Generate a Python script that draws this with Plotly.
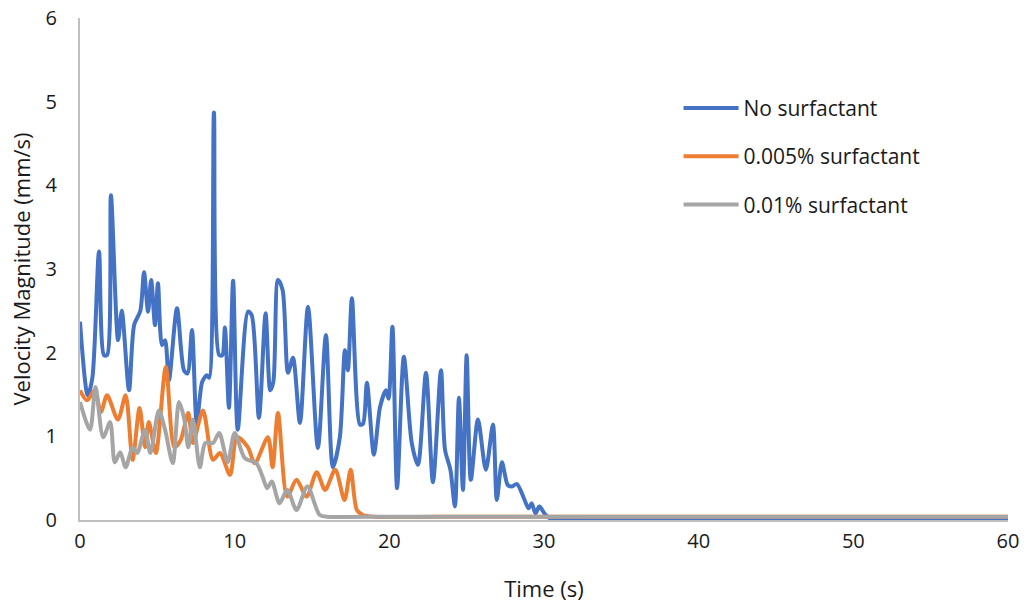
import plotly.graph_objects as go

# ---- data ----
blue_t = [0, 0.5, 0.8, 1.23, 1.55, 1.75, 2.0, 2.46, 2.7, 3.17, 3.5, 3.9, 4.14, 4.4, 4.6, 4.85,
          5.04, 5.3, 5.5, 5.75, 6.27, 6.72, 6.95, 7.24, 7.55, 7.9, 8.2, 8.35, 8.66, 9.0, 9.2,
          9.37, 9.63, 9.9, 10.2, 10.86, 11.1, 11.57, 12.0, 12.3, 12.5, 12.8, 13.1, 13.45, 13.77,
          14.22, 14.74, 15.38, 15.9, 16.35, 16.8, 17.13, 17.32, 17.58, 18.1, 18.3, 18.55, 19.0,
          19.4, 19.78, 19.95, 20.2, 20.5, 20.94, 21.45, 21.85, 22.37, 22.82, 23.34, 23.6, 23.95,
          24.24, 24.5, 24.76, 25.0, 25.27, 25.73, 26.24, 26.7, 26.95, 27.28, 27.65, 27.9, 28.25,
          28.7, 29.0, 29.2, 29.45, 29.7, 30.1, 30.5, 35, 40, 45, 50, 55, 60]
blue_v = [2.37, 1.49, 1.7, 3.21, 1.97, 1.97, 3.88, 2.15, 2.5, 1.55, 2.33, 2.5, 2.96, 2.49, 2.87, 2.33,
          2.83, 2.09, 2.15, 1.67, 2.53, 1.79, 1.75, 2.27, 1.15, 1.65, 1.73, 1.7, 4.87, 1.97, 1.97,
          2.3, 1.34, 2.86, 1.08, 2.49, 2.45, 1.22, 2.47, 1.55, 1.65, 2.87, 2.75, 1.76, 1.94,
          1.16, 2.55, 0.86, 2.21, 0.63, 0.99, 2.03, 1.79, 2.65, 1.14, 1.15, 1.64, 0.78,
          1.35, 1.55, 1.45, 2.31, 0.38, 1.95, 0.92, 0.66, 1.76, 0.45, 1.79, 0.84, 0.6,
          0.16, 1.46, 0.36, 1.97, 0.48, 1.2, 0.6, 1.14, 0.24, 0.69, 0.42, 0.4, 0.43,
          0.26, 0.14, 0.2, 0.08, 0.16, 0.06, 0.01, 0.01, 0.01, 0.01, 0.01, 0.01, 0.01]

orange_t = [0, 0.45, 0.95, 1.35, 1.75, 2.45, 2.95, 3.4, 3.85, 4.2, 4.45, 4.9, 5.55, 6.1, 6.5, 7.0,
            7.3, 7.95, 8.6, 9.05, 9.7, 10.15, 10.85, 11.3, 12.15, 12.45, 12.8, 13.4, 14.0, 14.65,
            15.3, 15.85, 16.5, 17.1, 17.5, 17.9, 18.3, 19, 25, 30, 40, 50, 60]
orange_v = [1.55, 1.43, 1.55, 1.29, 1.49, 1.2, 1.49, 0.72, 1.34, 0.87, 1.17, 0.8, 1.83, 0.87, 0.95, 1.28,
            0.92, 1.31, 0.72, 0.8, 0.54, 0.99, 0.87, 0.68, 0.99, 0.63, 1.28, 0.28, 0.48, 0.28,
            0.57, 0.36, 0.6, 0.24, 0.6, 0.12, 0.06, 0.04, 0.04, 0.04, 0.04, 0.04, 0.04]

gray_t = [0, 0.65, 1.0, 1.5, 1.95, 2.25, 2.6, 2.95, 3.4, 3.7, 4.2, 4.55, 5.1, 5.5, 6.0, 6.4, 6.75,
          7.0, 7.3, 7.75, 8.1, 8.6, 9.0, 9.55, 10.0, 10.65, 11.4, 11.8, 12.1, 12.4, 12.9, 13.4,
          14.0, 14.7, 15.5, 16, 20, 30, 40, 50, 60]
gray_v = [1.41, 1.08, 1.59, 0.99, 1.17, 0.69, 0.81, 0.63, 0.87, 0.8, 1.08, 0.8, 1.31, 1.08, 0.68, 1.41, 1.2,
          0.87, 1.2, 0.63, 0.92, 0.92, 1.04, 0.69, 1.04, 0.74, 0.68, 0.52, 0.38, 0.46, 0.2, 0.36,
          0.12, 0.4, 0.06, 0.04, 0.04, 0.04, 0.04, 0.04, 0.04]

names = ["No surfactant", "0.005% surfactant", "0.01% surfactant"]
colors = ["#4472C4", "#ED7D31", "#A5A5A5"]

x_ticks = [0, 10, 20, 30, 40, 50, 60]
y_ticks = [0, 1, 2, 3, 4, 5, 6]

FONT = "Open Sans"
TXT = "#1a1a1a"

fig = go.Figure()
for i, (t, v) in enumerate([(blue_t, blue_v), (orange_t, orange_v), (gray_t, gray_v)]):
    fig.add_trace(go.Scatter(
        x=t, y=v, mode="lines", name=names[i], legendgroup=f"g{i}",
        line=dict(color=colors[i], width=4, shape="spline", smoothing=0.8),
    ))

fig.update_layout(
    width=1028, height=606,
    paper_bgcolor="white", plot_bgcolor="white",
    margin=dict(l=80, r=20, t=18, b=86),
    font=dict(family=FONT, size=19, color=TXT),
    showlegend=True,
    legend=dict(x=0.645, y=0.861, xanchor="left", yanchor="top",
                font=dict(family=FONT, size=21, color=TXT),
                tracegroupgap=18, itemwidth=55, bgcolor="rgba(0,0,0,0)"),
)
fig.update_xaxes(
    range=[0, 60], tickvals=x_ticks, ticktext=[str(v) for v in x_ticks],
    showgrid=False, zeroline=False, showline=True, linecolor="#BFBFBF", linewidth=2,
    ticks="", ticklabelstandoff=2, automargin=False, ticklabeloverflow="allow",
    tickfont=dict(family=FONT, size=20, color=TXT),
    title=dict(text="Time (s)", font=dict(family=FONT, size=22, color=TXT), standoff=29),
)
fig.update_yaxes(
    range=[0, 6], tickvals=y_ticks, ticktext=[str(v) for v in y_ticks],
    showgrid=False, zeroline=False, showline=True, linecolor="#BFBFBF", linewidth=2,
    ticks="", ticklabelstandoff=17, automargin=False, ticklabeloverflow="allow",
    tickfont=dict(family=FONT, size=20, color=TXT),
    title=dict(text="Velocity Magnitude (mm/s)", font=dict(family=FONT, size=22, color=TXT), standoff=9),
)

fig.write_html("out.html",
               config={"displayModeBar": False},
               post_script="document.body.style.margin='0';document.body.style.overflow='hidden';")
